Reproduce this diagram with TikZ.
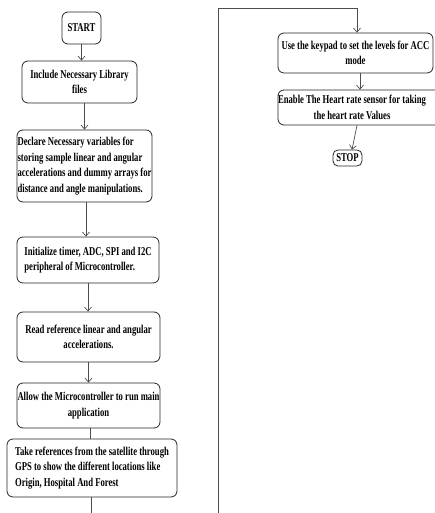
\documentclass[tikz,border=0pt]{standalone}
\usepackage{fontspec}
\setmainfont{Liberation Serif}[FakeStretch=0.72]
\usetikzlibrary{arrows.meta}
\begin{document}
\begin{tikzpicture}[x=1pt,y=-1pt,
  box/.style={draw=black!85, line width=0.8pt, rounded corners=6pt, inner sep=0pt, anchor=center},
  txt/.style={inner sep=0pt, font=\bfseries\fontsize{12}{15.5}\selectfont},
  arr/.style={draw=black!70, line width=0.7pt, -{Straight Barb[length=4pt,width=7pt]}},
  ln/.style={draw=black!70, line width=0.7pt}]
\useasboundingbox (0,0) rectangle (434,513);

\node[box,txt,minimum width=39pt,minimum height=32pt] (nstart) at (81.5,28) {START};
\node[box,txt,align=center,minimum width=115pt,minimum height=42pt] (b1) at (79.5,82) {Include Necessary Library\\files};
\node[box,txt,align=left,minimum width=135pt,minimum height=72pt] (b2) at (84.5,166) {Declare Necessary variables for\\storing sample linear and angular\\accelerations and dummy arrays for\\distance and angle manipulations.};
\node[box,txt,align=left,minimum width=142pt,minimum height=46pt] (b3) at (88,260) {Initialize timer, ADC, SPI and I2C\\peripheral of Microcontroller.};
\node[box,txt,align=center,minimum width=143pt,minimum height=50pt] (b4) at (88.5,337) {Read reference linear and angular\\accelerations.};
\node[box,txt,align=center,minimum width=143pt,minimum height=45pt] (b5) at (88.5,405.5) {Allow the Microcontroller to run main\\application};
\node[box,txt,align=left,minimum width=170pt,minimum height=58pt] (b6) at (92,468) {Take references from the satellite through\\GPS to show the different locations like\\Origin, Hospital And Forest};

\node[box,txt,align=center,minimum width=155pt,minimum height=40pt] (b7) at (355.5,53) {Use the keypad to set the levels for ACC\\mode};
\node[box,minimum width=167pt,minimum height=35pt] (b8) at (361.5,107.5) {};
\node[txt,align=center] (b8t) at (352,107.5) {Enable The Heart rate sensor for taking\\the heart rate Values};
\node[box,txt,rounded corners=5pt,minimum width=29pt,minimum height=16pt] (stop) at (347.5,158) {STOP};

\coordinate (e1) at (91,513);
\coordinate (e2) at (218,513);
\coordinate (top) at (218,8);

\draw[arr] (nstart.south) -- (nstart.south |- b1.north);
\draw[arr] (b1.south -| b2.north) -- (b2.north);
\draw[arr] ([xshift=1.5pt]b2.south) -- ([xshift=1.5pt]b2.south |- b3.north);
\draw[arr] (b3.south) -- (b3.south |- b4.north);
\draw[arr] (b4.south) -- (b4.south |- b5.north);
\draw[ln] ([xshift=1.5pt]b5.south) -- ([xshift=1.5pt]b5.south |- b6.north);
\draw[ln] (b6.south -| e1) -- (e1);

\draw[arr] (e2) -- (top) -| ([xshift=1.5pt]b7.north);
\draw[arr] ([xshift=4.5pt]b7.south) -- ([xshift=4.5pt]b7.south |- b8.north);
\draw[arr] ([xshift=-4.5pt]b8.south) -- ([xshift=4.5pt]stop.north);
\end{tikzpicture}
\end{document}
